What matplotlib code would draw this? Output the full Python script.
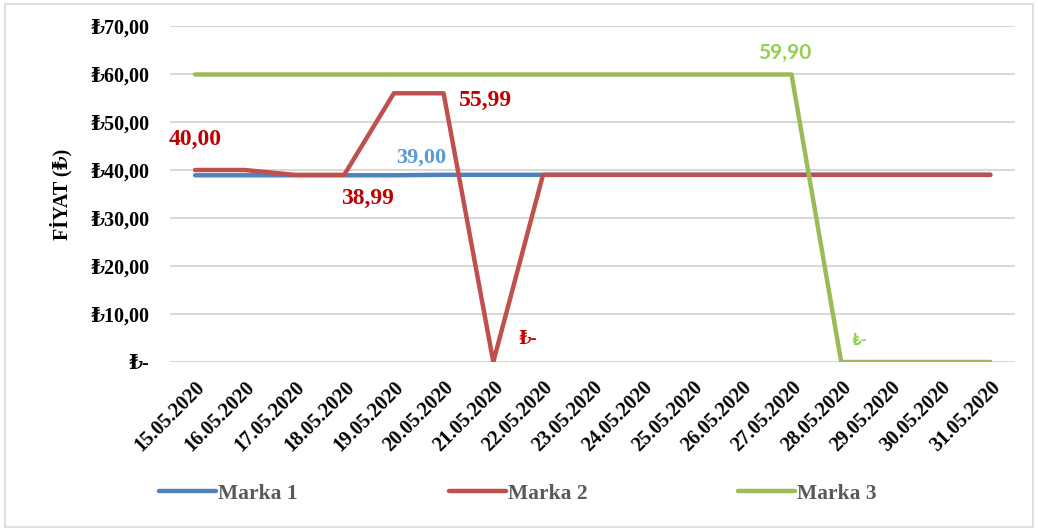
import matplotlib
matplotlib.use("Agg")
import matplotlib.pyplot as plt
from matplotlib.patches import Rectangle

dates = ["15.05.2020", "16.05.2020", "17.05.2020", "18.05.2020", "19.05.2020",
         "20.05.2020", "21.05.2020", "22.05.2020", "23.05.2020", "24.05.2020",
         "25.05.2020", "26.05.2020", "27.05.2020", "28.05.2020", "29.05.2020",
         "30.05.2020", "31.05.2020"]
marka1 = [38.90, 38.90, 38.90, 38.90, 38.90, 39.00, 39.00, 39.00, 39.00, 39.00,
          39.00, 39.00, 39.00, 39.00, 39.00, 39.00, 39.00]
marka2 = [40.00, 40.00, 38.99, 38.99, 55.99, 55.99, 0.00, 38.99, 38.99, 38.99,
          38.99, 38.99, 38.99, 38.99, 38.99, 38.99, 38.99]
marka3 = [59.90, 59.90, 59.90, 59.90, 59.90, 59.90, 59.90, 59.90, 59.90, 59.90,
          59.90, 59.90, 59.90, 0.00, 0.00, 0.00, 0.00]
yticks = [0, 10, 20, 30, 40, 50, 60, 70]
ytick_labels = ["₺-", "₺10,00", "₺20,00", "₺30,00", "₺40,00", "₺50,00", "₺60,00", "₺70,00"]

SERIF = ["Liberation Serif", "DejaVu Serif"]
SANS = ["Lato", "DejaVu Sans"]

fig = plt.figure(figsize=(10.38, 5.31), dpi=100)
fig.patches.append(Rectangle((0.005, 0.008), 0.99, 0.985, transform=fig.transFigure,
                             fill=False, edgecolor="#D9D9D9", linewidth=1.2))
ax = fig.add_axes([0.164, 0.3183, 0.814, 0.6327])

x = list(range(len(dates)))
style = dict(linewidth=3.2, solid_capstyle="round", solid_joinstyle="round")
ax.plot(x, marka1, color="#4F81BD", label="Marka 1", **style)
ax.plot(x, marka2, color="#C0504D", label="Marka 2", **style)
ax.plot(x, marka3, color="#9BBB59", label="Marka 3", **style)

ax.set_xlim(-0.5, len(dates) - 0.5)
ax.set_ylim(0, 70)
ax.set_yticks(yticks)
ax.set_yticklabels(ytick_labels, family=SERIF, fontweight="bold", fontsize=14.5)
ax.set_xticks(x)
ax.set_xticklabels(dates, family=SERIF, fontweight="bold", fontsize=14.5,
                   rotation=45, ha="right", rotation_mode="anchor")
ax.tick_params(axis="both", length=0)
ax.tick_params(axis="y", pad=15)
ax.tick_params(axis="x", pad=11)
for s in ax.spines.values():
    s.set_visible(False)
ax.grid(axis="y", color="#D9D9D9", linewidth=1.5)
ax.set_axisbelow(True)
ax.set_ylabel("FİYAT (₺)", family=SERIF, fontweight="bold", fontsize=14.5, labelpad=13)

def label(i, series, text, color, dx, dy, size, family, ha="center"):
    ax.annotate(text, (i, series[i]), xytext=(dx, dy), textcoords="offset pixels",
                ha=ha, va="center", color=color, fontsize=size,
                fontweight="bold", family=family)

label(0, marka2, "40,00", "#C00000", 0, 31, 17, SERIF)
label(5, marka2, "55,99", "#C00000", 15, -7, 17, SERIF, ha="left")
label(3, marka2, "38,99", "#C00000", 23, -24, 17, SERIF)
label(5, marka1, "39,00", "#5B9BD5", -22, 17, 16, SERIF)
label(6, marka2, "₺-", "#C00000", 35, 22, 13, SERIF)
label(12, marka3, "59,90", "#92D050", -7, 22, 15, SANS)
label(13, marka3, "₺-", "#92D050", 18, 22, 12, SANS)

leg = fig.legend(loc="center", bbox_to_anchor=(0.499, 0.0697), ncol=3, frameon=False,
                 handlelength=2.65, handletextpad=0.1, columnspacing=7.0,
                 prop={"family": SERIF, "weight": "bold", "size": 15.5})
for t in leg.get_texts():
    t.set_color("#595959")

fig.savefig("out.png", dpi=100)
